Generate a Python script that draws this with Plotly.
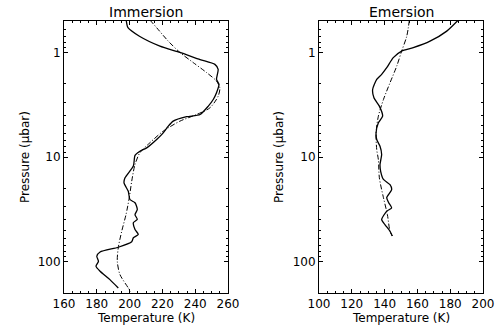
import plotly.graph_objects as go

# Immersion, solid (observed)
imm_solid_T = [198, 199, 206, 218.5, 230.7, 243, 252, 254, 253, 254.5, 253, 251, 248, 243, 234.8, 226.6, 223.6,
               220.5, 216.5, 210.4, 206.3, 203.3, 202.3, 197.2, 196.6, 199.2, 200.2, 203.3, 204.7, 203.3, 204.7,
               202.3, 203.3, 205.3, 202.3, 201.3, 193.1, 182, 180, 181, 179.5, 182, 188, 193.1]
imm_solid_P = [0.5, 0.58, 0.70, 0.87, 1.0, 1.17, 1.30, 1.45, 1.81, 2.02, 2.43, 2.82, 3.26, 3.92, 4.12, 4.54, 5.07,
               5.87, 6.8, 8.18, 8.8, 9.66, 12.2, 15.8, 17.7, 21.3, 25.5, 27.4, 31.8, 35.6, 39.6,
               42.5, 49.3, 55, 59.2, 64.6, 73, 81, 89, 99.6, 111, 124, 149, 179]
# Immersion, dash-dot (model)
imm_model_T = [212.4, 216.5, 223.6, 230.7, 238.8, 247, 253, 255, 254, 249, 240.9, 230.7, 220.5, 212.4, 206.3,
               203.3, 201.3, 199.8, 197.8, 195.2, 193.1, 192.5, 194.1, 199.2, 200.5]
imm_model_P = [0.49, 0.58, 0.78, 1.0, 1.25, 1.56, 1.88, 2.18, 2.62, 3.38, 3.92, 4.54, 5.66, 7.3, 9.1,
               11.8, 17.0, 24.5, 35.6, 51.3, 73.8, 99.6, 133, 179, 195]

# Emersion, solid (observed)
em_solid_T = [184.9, 177.9, 167.7, 157.5, 150.4, 145.3, 141.3, 138.2, 135.2, 132.7, 133.5, 136.8, 138.8, 136.2,
              134.8, 135.2, 137.2, 138.2, 137.2, 137.6, 139.3, 143.3, 144.3, 141.3, 142.5, 144.3, 141.3, 138.2,
              140.2, 143.3, 144.7]
em_solid_P = [0.49, 0.625, 0.78, 0.90, 0.97, 1.12, 1.40, 1.62, 1.81, 2.26, 2.71, 3.26, 4.07, 4.71,
              5.87, 6.8, 7.9, 9.45, 11.8, 13.7, 16.4, 18.4, 20.5, 24.5, 27.4, 30.7, 33.0, 39.6,
              44.3, 51.3, 57.1]
# Emersion, dash-dot (model)
em_model_T = [155.1, 153.5, 150.4, 147.4, 143.3, 139.3, 136.2, 134.8, 135.2, 136.2, 136.8, 139.3, 141.7, 143.3, 144.7]
em_model_P = [0.49, 0.70, 0.97, 1.35, 1.95, 2.82, 4.07, 5.87, 8.5, 10.6, 15.8, 24.5, 35.6, 51.3, 57]

x_ranges = [[160, 260], [100, 200]]
x_ticks = [[160, 180, 200, 220, 240, 260], [100, 120, 140, 160, 180, 200]]
y_ticks = [1, 10, 100]
y_ticktext = ["1", "10", "100"]
titles = ["Immersion", "Emersion"]
x_title = "Temperature (K)"
y_title = "Pressure (\u03bcbar)"

FONT = "DejaVu Sans"
minor_y = [m * 10 ** e for e in range(-1, 3) for m in range(2, 10) if 0.5 <= m * 10 ** e <= 200]

fig = go.Figure()
fig.add_trace(go.Scatter(x=imm_solid_T, y=imm_solid_P, mode="lines", line=dict(color="black", width=1.3, shape="spline", smoothing=0.6), xaxis="x", yaxis="y"))
fig.add_trace(go.Scatter(x=imm_model_T, y=imm_model_P, mode="lines", line=dict(color="black", width=1, dash="5px,2px,1px,2px", shape="spline", smoothing=0.8), xaxis="x", yaxis="y"))
fig.add_trace(go.Scatter(x=em_solid_T, y=em_solid_P, mode="lines", line=dict(color="black", width=1.3, shape="spline", smoothing=0.6), xaxis="x2", yaxis="y2"))
fig.add_trace(go.Scatter(x=em_model_T, y=em_model_P, mode="lines", line=dict(color="black", width=1, dash="5px,2px,1px,2px", shape="spline", smoothing=0.8), xaxis="x2", yaxis="y2"))

W, H = 502, 330
xdom = [[64 / W, 228 / W], [319 / W, 483 / W]]
ydom = [(H - 293) / H, (H - 21) / H]

def xaxis(i):
    return dict(domain=xdom[i], range=x_ranges[i], tickvals=x_ticks[i], ticks="inside", ticklen=4,
                tickcolor="black", linecolor="black", linewidth=1, mirror="ticks", showgrid=False,
                zeroline=False, anchor="y" if i == 0 else "y2", automargin=False,
                tickfont=dict(family=FONT, size=12, color="black"),
                minor=dict(dtick=5, ticks="inside", ticklen=2, tickcolor="black", showgrid=False))

def yaxis(i):
    return dict(domain=ydom, type="log", range=[2.301, -0.301],
                tickvals=y_ticks, ticktext=y_ticktext, ticks="inside", ticklen=4, tickcolor="black",
                linecolor="black", linewidth=1, mirror="ticks", showgrid=False, zeroline=False,
                anchor="x" if i == 0 else "x2", automargin=False,
                tickfont=dict(family=FONT, size=12, color="black"),
                minor=dict(tickmode="array", tickvals=minor_y, ticks="inside", ticklen=2, tickcolor="black", showgrid=False))

fig.update_layout(
    width=W, height=H, margin=dict(l=0, r=0, t=0, b=0, autoexpand=False),
    paper_bgcolor="white", plot_bgcolor="white", showlegend=False,
    xaxis=xaxis(0), yaxis=yaxis(0), xaxis2=xaxis(1), yaxis2=yaxis(1),
)

for i in range(2):
    xc = (xdom[i][0] + xdom[i][1]) / 2
    fig.add_annotation(x=xc, y=(H - 12) / H, xref="paper", yref="paper", text=titles[i], showarrow=False,
                       xanchor="center", yanchor="middle", font=dict(family=FONT, size=14, color="black"))
    fig.add_annotation(x=xc, y=(H - 318) / H, xref="paper", yref="paper", text=x_title, showarrow=False,
                       xanchor="center", yanchor="middle", font=dict(family=FONT, size=12, color="black"))
    fig.add_annotation(x=[25, 279][i] / W, y=(H - 157) / H, xref="paper", yref="paper", text=y_title,
                       textangle=-90, showarrow=False, xanchor="center", yanchor="middle",
                       font=dict(family=FONT, size=12, color="black"))

fig.write_html("out.html", config={"displayModeBar": False},
               post_script="document.body.style.margin='0';document.body.style.overflow='hidden';")
